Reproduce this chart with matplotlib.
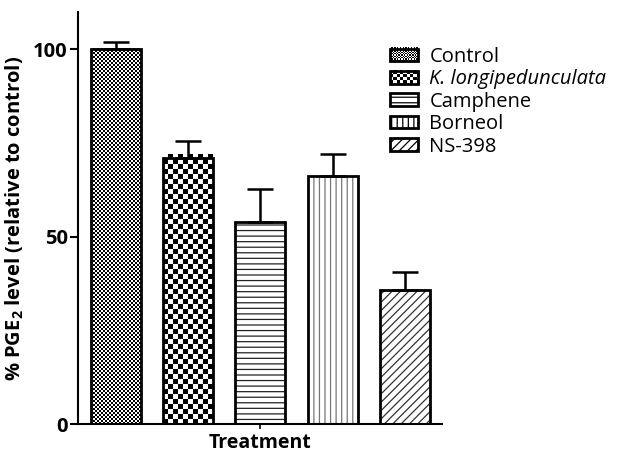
import numpy as np
import matplotlib
matplotlib.use('Agg')
import matplotlib.pyplot as plt
from matplotlib.patches import Rectangle
from matplotlib.collections import PolyCollection
from matplotlib.legend_handler import HandlerPatch
from matplotlib.transforms import IdentityTransform

treatments = ['Control', 'K. longipedunculata', 'Camphene', 'Borneol', 'NS-398']
pge2_level = [100.0, 71.0, 54.0, 66.2, 35.9]
sem = [2.0, 4.5, 8.8, 5.9, 4.8]

plt.rcParams['font.family'] = ['Open Sans', 'DejaVu Sans']
plt.rcParams['mathtext.fontset'] = 'custom'
plt.rcParams['mathtext.rm'] = 'Open Sans:bold'
plt.rcParams['mathtext.bf'] = 'Open Sans:bold'
plt.rcParams['hatch.linewidth'] = 0.9

EDGE_LW = 2.0


def checker_squares(x0, y0, x1, y1, cell):
    # black cells of a checkerboard covering the box
    polys = []
    nx = int(np.ceil((x1 - x0) / cell))
    ny = int(np.ceil((y1 - y0) / cell))
    for i in range(nx):
        for j in range(ny):
            if (i + j) % 2 == 0:
                xa = x0 + i * cell
                ya = y0 + j * cell
                polys.append([(xa, ya), (xa + cell, ya),
                              (xa + cell, ya + cell), (xa, ya + cell)])
    return polys


class HandlerChecker(HandlerPatch):
    def __init__(self, cell):
        super().__init__()
        self.cell = cell

    def create_artists(self, legend, orig_handle, xdescent, ydescent,
                       width, height, fontsize, trans):
        x0, y0 = -xdescent, -ydescent
        squares = PolyCollection(checker_squares(x0, y0, x0 + width, y0 + height, self.cell),
                                 facecolors='k', edgecolors='none', transform=trans)
        frame = Rectangle((x0, y0), width, height, facecolor='none',
                          edgecolor='k', lw=EDGE_LW, transform=trans)
        return [squares, frame]


fig = plt.figure(figsize=(6.32, 4.53), dpi=100)
ax = fig.add_axes([78 / 632, 1 - 424 / 453, (442 - 78) / 632, (424 - 12) / 453])
ax.set_xlim(-0.526, 4.515)
ax.set_ylim(0, 110)

x = np.arange(len(treatments))
width = 0.69

# (hatch, hatch colour, checker cell in px or None)
styles = [
    (None, 'k', 2),
    (None, 'k', 5),
    ('---', '#222222', None),
    ('|||', '#777777', None),
    ('////', '#333333', None),
]

bars = ax.bar(x, pge2_level, width, color='white', linewidth=0, zorder=2)
for bar, (hatch, hcol, cell) in zip(bars, styles):
    if hatch:
        bar.set_hatch(hatch)
        bar.set_edgecolor(hcol)
    if cell:
        (px0, py0), (px1, py1) = ax.transData.transform(
            [(bar.get_x(), 0), (bar.get_x() + bar.get_width(), bar.get_height())])
        coll = PolyCollection(checker_squares(px0, py0, px1, py1, cell),
                              facecolors='k', edgecolors='none',
                              transform=IdentityTransform(), zorder=2.1)
        coll.set_clip_path(bar)
        ax.add_collection(coll)

ax.bar(x, pge2_level, width, fill=False, edgecolor='k', linewidth=EDGE_LW, zorder=3)
ax.errorbar(x, pge2_level, yerr=[np.zeros(len(sem)), sem], fmt='none', ecolor='k',
            elinewidth=1.8, capsize=9.7, capthick=1.8, zorder=2.5)

for s in ['top', 'right']:
    ax.spines[s].set_visible(False)
for s in ['left', 'bottom']:
    ax.spines[s].set_linewidth(1.5)

ax.set_yticks([0, 50, 100])
ax.set_xticks([2])
ax.set_xticklabels([''])
ax.tick_params(axis='y', length=5.5, width=1.5, labelsize=14.5, pad=2)
ax.tick_params(axis='x', length=3.5, width=1.2, pad=1)
for lab in ax.get_yticklabels():
    lab.set_fontweight('bold')

ax.set_xlabel('Treatment', fontsize=14, fontweight='bold', labelpad=2)
ax.set_ylabel(r'% PGE$_{\mathbf{2}}$ level (relative to control)',
              fontsize=14.5, fontweight='bold', labelpad=5)

# legend proxies
handles = []
for hatch, hcol, cell in styles:
    if cell:
        handles.append(Rectangle((0, 0), 1, 1, facecolor='white', edgecolor='k'))
    else:
        handles.append(Rectangle((0, 0), 1, 1, facecolor='white', edgecolor='k',
                                 hatch=hatch, lw=EDGE_LW))
handler_map = {handles[0]: HandlerChecker(1.0), handles[1]: HandlerChecker(2.4)}
leg = fig.legend(handles, treatments, handler_map=handler_map,
                 loc='upper left', bbox_to_anchor=(390 / 632, 1 - 47 / 453),
                 frameon=False, fontsize=14.5, borderpad=0, borderaxespad=0,
                 handlelength=1.38, handleheight=0.59, handletextpad=0.58,
                 labelspacing=0.12)
leg.get_texts()[1].set_fontstyle('italic')

fig.savefig('out.png', dpi=100)
